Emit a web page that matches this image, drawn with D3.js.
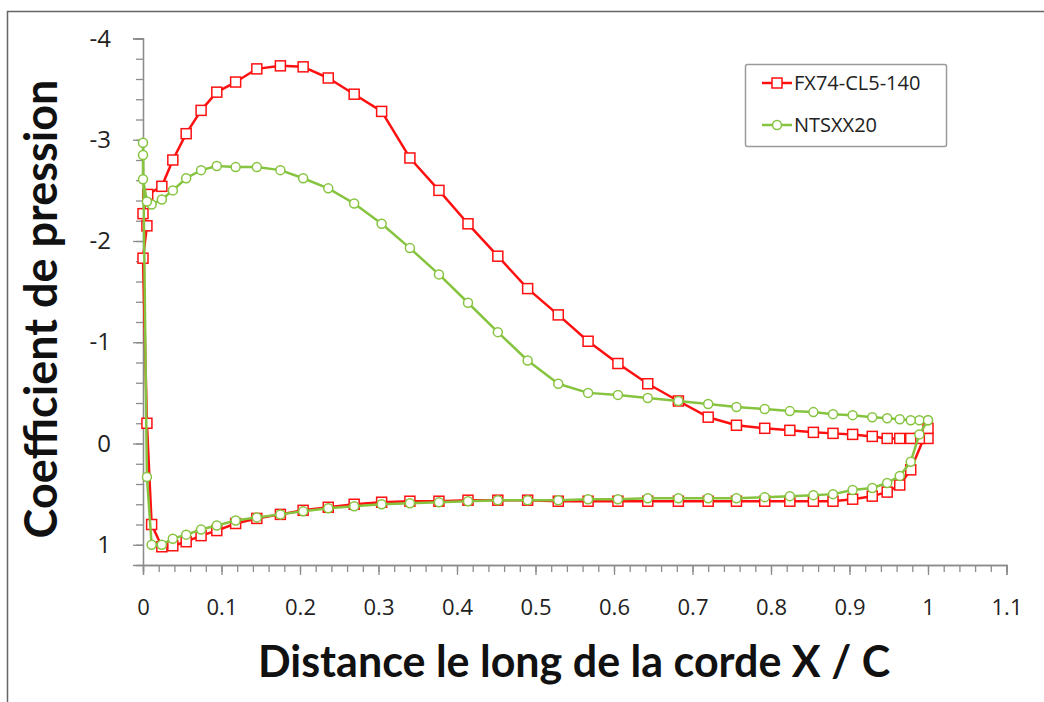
<!DOCTYPE html>
<html>
<head>
    <script src="https://d3js.org/d3.v7.min.js"></script>
    <style type="text/css">
        body { margin: 0; background: #fff; }
        svg { display: block; }
        .tick text { font-family: "Open Sans", sans-serif; fill: #222; }
    </style>
</head>
<body>
    <script type="text/javascript">

        var w = 1044;
        var h = 702;

        // FX74-CL5-140 : extrados (BF -> BA) puis intrados (BA -> BF)
        var redX = [1.000, 0.989, 0.978, 0.964, 0.948, 0.929, 0.904, 0.879, 0.854, 0.824,
                    0.792, 0.756, 0.720, 0.682, 0.643, 0.605, 0.567, 0.529, 0.490, 0.452,
                    0.414, 0.377, 0.340, 0.304, 0.269, 0.236, 0.204, 0.175, 0.145, 0.118,
                    0.094, 0.074, 0.055, 0.038, 0.024, 0.006, 0.000, 0.005, 0.000, 0.005,
                    0.011, 0.024, 0.038, 0.055, 0.074, 0.094, 0.118, 0.145, 0.175, 0.204,
                    0.236, 0.269, 0.304, 0.340, 0.377, 0.414, 0.452, 0.490, 0.529, 0.567,
                    0.605, 0.643, 0.682, 0.720, 0.756, 0.792, 0.824, 0.854, 0.879, 0.904,
                    0.929, 0.948, 0.964, 0.978, 1.000];
        var redCp = [-0.05, -0.05, -0.05, -0.05, -0.05, -0.07, -0.09, -0.10, -0.11, -0.13,
                     -0.15, -0.18, -0.26, -0.42, -0.59, -0.79, -1.01, -1.27, -1.53, -1.85,
                     -2.17, -2.50, -2.82, -3.28, -3.45, -3.61, -3.72, -3.73, -3.70, -3.57,
                     -3.47, -3.29, -3.06, -2.80, -2.54, -2.46, -2.27, -2.15, -1.83, -0.20,
                     0.80, 1.02, 1.01, 0.97, 0.91, 0.86, 0.79, 0.74, 0.70, 0.66,
                     0.63, 0.60, 0.58, 0.57, 0.57, 0.56, 0.56, 0.56, 0.57, 0.57,
                     0.57, 0.57, 0.57, 0.57, 0.57, 0.57, 0.57, 0.57, 0.57, 0.55,
                     0.52, 0.48, 0.41, 0.26, -0.15];

        // NTSXX20
        var greenX = [1.000, 0.989, 0.978, 0.964, 0.948, 0.929, 0.904, 0.879, 0.854, 0.824,
                      0.792, 0.756, 0.720, 0.682, 0.643, 0.605, 0.567, 0.529, 0.490, 0.452,
                      0.414, 0.377, 0.340, 0.304, 0.269, 0.236, 0.204, 0.175, 0.145, 0.118,
                      0.094, 0.074, 0.055, 0.038, 0.024, 0.011, 0.005, 0.000, 0.000, 0.000,
                      0.005, 0.011, 0.024, 0.038, 0.055, 0.074, 0.094, 0.118, 0.145, 0.175,
                      0.204, 0.236, 0.269, 0.304, 0.340, 0.377, 0.414, 0.452, 0.490, 0.529,
                      0.567, 0.605, 0.643, 0.682, 0.720, 0.756, 0.792, 0.824, 0.854, 0.879,
                      0.904, 0.929, 0.948, 0.964, 0.978, 0.989, 1.000];
        var greenCp = [-0.23, -0.23, -0.23, -0.24, -0.25, -0.26, -0.28, -0.29, -0.31, -0.32,
                       -0.34, -0.36, -0.39, -0.42, -0.45, -0.48, -0.50, -0.59, -0.82, -1.10,
                       -1.39, -1.67, -1.93, -2.17, -2.37, -2.52, -2.62, -2.70, -2.73, -2.73,
                       -2.74, -2.70, -2.62, -2.50, -2.41, -2.36, -2.39, -2.61, -2.85, -2.97,
                       0.33, 1.00, 1.00, 0.94, 0.90, 0.85, 0.81, 0.76, 0.73, 0.70,
                       0.67, 0.64, 0.62, 0.60, 0.59, 0.58, 0.57, 0.56, 0.56, 0.56,
                       0.55, 0.55, 0.54, 0.54, 0.54, 0.54, 0.53, 0.52, 0.51, 0.50,
                       0.46, 0.44, 0.39, 0.32, 0.18, -0.09, -0.23];

        var xTicks = [0, 0.1, 0.2, 0.3, 0.4, 0.5, 0.6, 0.7, 0.8, 0.9, 1, 1.1];
        var yTicks = [-4, -3, -2, -1, 0, 1];

        var series = [
            { name: "FX74-CL5-140", x: redX, y: redCp, color: "#ff1010", shape: "square" },
            { name: "NTSXX20", x: greenX, y: greenCp, color: "#86c440", shape: "circle" }
        ];

        var svg = d3.select("body")
            .append("svg")
            .attr("width", w)
            .attr("height", h);

        // cadre de l'image
        svg.append("path")
            .attr("d", "M7.5," + h + "V11.5H" + w)
            .attr("fill", "none")
            .attr("stroke", "#666")
            .attr("stroke-width", 1.5);

        var xScale = d3.scaleLinear()
            .domain([0, 1.1])
            .range([143, 1006.5]);

        var yScale = d3.scaleLinear()
            .domain([-4, 1.2])
            .range([38.5, 565]);

        // libellés avec un tiret simple, comme dans Excel
        var plain = function(d) { return String(+d.toFixed(1)); };

        // graduations secondaires
        var xMinor = d3.range(0, 56).map(function(i) { return i * 0.02; });
        var yMinor = d3.range(0, 26).map(function(i) { return -4 + i * 0.2; });

        var styleAxis = function(g) {
            g.selectAll("line,path").attr("stroke", "#8c8c8c").attr("stroke-width", 1.3);
        };

        svg.append("g")
            .attr("transform", "translate(0,565)")
            .call(d3.axisBottom(xScale).tickValues(xMinor).tickSize(7).tickFormat(""))
            .call(styleAxis);

        svg.append("g")
            .attr("transform", "translate(0,565)")
            .call(d3.axisBottom(xScale).tickValues(xTicks).tickSize(10).tickPadding(24).tickFormat(plain))
            .call(styleAxis)
            .call(function(g) { g.selectAll("text").attr("font-size", 22); });

        svg.append("g")
            .attr("transform", "translate(143,0)")
            .call(d3.axisLeft(yScale).tickValues(yMinor).tickSize(7).tickFormat(""))
            .call(styleAxis);

        svg.append("g")
            .attr("transform", "translate(143,0)")
            .call(d3.axisLeft(yScale).tickValues(yTicks).tickSize(10).tickPadding(22).tickFormat(plain))
            .call(styleAxis)
            .call(function(g) { g.selectAll("text").attr("font-size", 24); });

        // titres des axes
        svg.append("text")
            .attr("x", 574)
            .attr("y", 677)
            .attr("text-anchor", "middle")
            .attr("font-family", "Lato, sans-serif")
            .attr("font-weight", "bold")
            .attr("font-size", 43)
            .attr("fill", "#111")
            .text("Distance le long de la corde X / C");

        svg.append("text")
            .attr("transform", "translate(57,309) rotate(-90)")
            .attr("text-anchor", "middle")
            .attr("font-family", "Lato, sans-serif")
            .attr("font-weight", "bold")
            .attr("font-size", 45)
            .attr("fill", "#111")
            .text("Coefficient de pression");

        var line = d3.line()
            .x(function(d) { return xScale(d[0]); })
            .y(function(d) { return yScale(d[1]); });

        function drawMarker(g, shape, color) {
            if (shape === "square") {
                g.append("rect")
                    .attr("x", -5).attr("y", -5)
                    .attr("width", 10).attr("height", 10)
                    .attr("fill", "#fff")
                    .attr("stroke", color)
                    .attr("stroke-width", 1.5);
            } else {
                g.append("circle")
                    .attr("r", 4.5)
                    .attr("fill", "#fff")
                    .attr("stroke", color)
                    .attr("stroke-width", 1.5);
            }
        }

        series.forEach(function(s) {
            var pts = s.x.map(function(v, i) { return [v, s.y[i]]; });

            svg.append("path")
                .datum(pts)
                .attr("fill", "none")
                .attr("stroke", s.color)
                .attr("stroke-width", 2.5)
                .attr("stroke-linejoin", "round")
                .attr("d", line);

            svg.append("g")
                .selectAll("g")
                .data(pts)
                .enter()
                .append("g")
                .attr("transform", function(d) { return "translate(" + xScale(d[0]) + "," + yScale(d[1]) + ")"; })
                .each(function() { drawMarker(d3.select(this), s.shape, s.color); });
        });

        // légende
        var legend = svg.append("g");
        legend.append("rect")
            .attr("x", 745.5).attr("y", 64.5)
            .attr("width", 201).attr("height", 82)
            .attr("fill", "#fff")
            .attr("stroke", "#9a9a9a")
            .attr("stroke-width", 1.5)
            .attr("rx", 2);

        series.forEach(function(s, i) {
            var ly = 83 + i * 42;
            legend.append("line")
                .attr("x1", 762).attr("x2", 792)
                .attr("y1", ly).attr("y2", ly)
                .attr("stroke", s.color)
                .attr("stroke-width", 2.5);
            drawMarker(legend.append("g").attr("transform", "translate(777," + ly + ")"), s.shape, s.color);
            legend.append("text")
                .attr("x", 794)
                .attr("y", ly + 7)
                .attr("font-family", "Open Sans, sans-serif")
                .attr("font-size", 20)
                .attr("fill", "#222")
                .text(s.name);
        });

    </script>
</body>
</html>
